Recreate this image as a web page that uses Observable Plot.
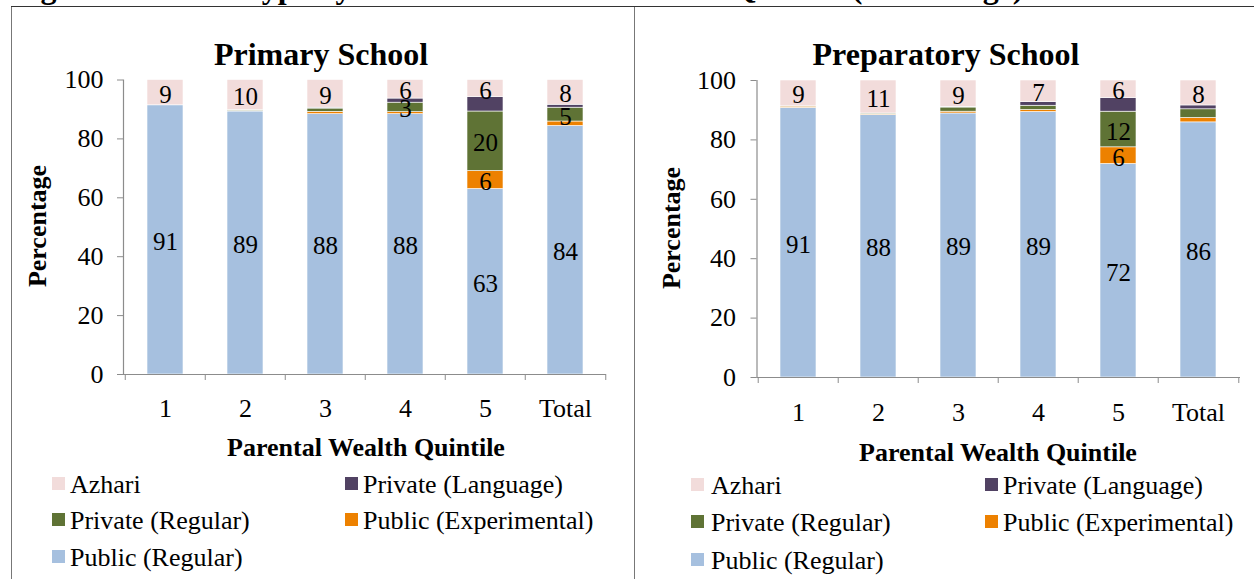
<!DOCTYPE html>
<html><head><meta charset="utf-8">
<script src="https://cdn.jsdelivr.net/npm/d3@7"></script>
<script src="https://cdn.jsdelivr.net/npm/@observablehq/plot@0.6"></script>
<style>
body{margin:0;background:#fff;font-family:"Liberation Serif","Times New Roman",serif;color:#000}
#page{position:relative;width:1254px;height:579px;overflow:hidden;background:#fff}
.abs{position:absolute;white-space:nowrap;line-height:1}
.bold{font-weight:bold}
.sw{position:absolute;width:13px;height:13px}
.svgbox{position:absolute;top:0}
</style></head><body><div id="page"></div>
<script>
// ---- data ----
const figureTitle = "Figure 3: School Type by Level and Parental Wealth Quintile (Percentage)";
const categories = ["1", "2", "3", "4", "5", "Total"];
const seriesNames = ["Public (Regular)", "Public (Experimental)", "Private (Regular)", "Private (Language)", "Azhari"];
const seriesColors = ["#A6C0DF", "#ED8100", "#5F7335", "#514263", "#F2DCDB"];
const legendOrder = ["Azhari", "Private (Language)", "Private (Regular)", "Public (Experimental)", "Public (Regular)"];
const yTicks = [0, 20, 40, 60, 80, 100];

const primaryPublicRegular      = [91.4, 89.3, 88.4, 88.4, 63.0, 84.4];
const primaryPublicExperimental = [0.0, 0.2, 0.8, 0.7, 6.1, 1.5];
const primaryPrivateRegular     = [0.0, 0.3, 1.1, 3.2, 20.2, 4.7];
const primaryPrivateLanguage    = [0.0, 0.0, 0.3, 1.4, 4.9, 1.0];
const primaryAzhari             = [8.6, 10.2, 9.4, 6.3, 5.8, 8.4];

const prepPublicRegular      = [90.8, 88.4, 88.9, 89.4, 71.9, 85.9];
const prepPublicExperimental = [0.4, 0.2, 0.6, 0.7, 5.6, 1.5];
const prepPrivateRegular     = [0.1, 0.3, 1.4, 1.4, 12.0, 2.9];
const prepPrivateLanguage    = [0.0, 0.0, 0.2, 1.2, 4.6, 1.3];
const prepAzhari             = [8.7, 11.1, 8.9, 7.3, 5.9, 8.4];

// ---- helpers ----
const page = document.getElementById("page");
const GRAY = "#8c8c8c";

function addText(txt, opts) {
  const d = document.createElement("div");
  d.className = "abs" + (opts.bold ? " bold" : "");
  d.textContent = txt;
  d.style.fontSize = opts.size + "px";
  d.style.top = (opts.baseline - 0.8375 * opts.size) + "px";
  if (opts.center != null) {
    d.style.left = opts.center + "px";
    d.style.transform = "translateX(-50%)";
  } else d.style.left = opts.left + "px";
  page.appendChild(d);
  return d;
}
function addLine(x, y, w, h, color) {
  const d = document.createElement("div");
  d.style.cssText = `position:absolute;left:${x}px;top:${y}px;width:${w}px;height:${h}px;background:${color}`;
  page.appendChild(d);
}

function rowsFor(seriesArrays) {
  const rows = [];
  categories.forEach((c, i) => {
    seriesNames.forEach((s, j) => rows.push({category: c, series: s, value: seriesArrays[j][i]}));
  });
  return rows;
}

function labelText(d) {
  return d.series !== "Private (Language)" && d.value >= 3 ? String(Math.round(d.value)) : "";
}

function panelChart({left, width, height, ml, mr, mt, mb, rows, tickPadX, tickPadY}) {
  const step = (width - ml - mr) / categories.length;
  const chart = Plot.plot({
    width, height,
    marginLeft: ml, marginRight: mr, marginTop: mt, marginBottom: mb,
    style: {fontFamily: "'Liberation Serif', 'Times New Roman', serif", fontSize: "26px", color: "black", background: "transparent", overflow: "visible"},
    x: {domain: categories, paddingInner: 0.55, paddingOuter: 0.275, label: null},
    y: {domain: [0, 100], label: null},
    color: {domain: seriesNames, range: seriesColors},
    marks: [
      Plot.barY(rows, {x: "category", y: "value", fill: "series", order: seriesNames, stroke: "white", strokeWidth: 0.6}),
      Plot.text(rows, Plot.stackY({x: "category", y: "value", z: "series", order: seriesNames, text: labelText, fontSize: 25, fill: "black", dy: 2})),
      Plot.ruleY([0], {stroke: GRAY, strokeWidth: 1.2}),
      Plot.frame({anchor: "left", stroke: GRAY, strokeWidth: 1.2}),
      Plot.axisY({ticks: yTicks, tickSize: 6, tickPadding: tickPadY, stroke: GRAY, fill: "black", fontSize: 26, label: null}),
      Plot.axisX({tickSize: 0, tickPadding: tickPadX, fill: "black", fontSize: 26, label: null}),
      Plot.axisX({tickSize: 6, tickFormat: () => "", dx: -step / 2, stroke: GRAY, label: null}),
      Plot.axisX({ticks: [categories[categories.length - 1]], tickSize: 6, tickFormat: () => "", dx: step / 2, stroke: GRAY, label: null})
    ]
  });
  const box = document.createElement("div");
  box.className = "svgbox";
  box.style.left = left + "px";
  box.appendChild(chart);
  page.appendChild(box);
}

function legend(items) {
  items.forEach(it => {
    const s = document.createElement("div");
    s.className = "sw";
    s.style.left = it.sx + "px";
    s.style.top = (it.baseline - 17) + "px";
    s.style.background = seriesColors[seriesNames.indexOf(it.name)];
    page.appendChild(s);
    addText(it.name, {left: it.tx, baseline: it.baseline, size: 26});
  });
}

function rotated(txt, cx, cy) {
  const d = document.createElement("div");
  d.className = "abs bold";
  d.textContent = txt;
  d.style.fontSize = "26px";
  d.style.left = cx + "px";
  d.style.top = cy + "px";
  d.style.transform = "translate(-50%,-50%) rotate(-90deg)";
  page.appendChild(d);
}

// ---- frame lines ----
addText(figureTitle, {left: 12, baseline: -2.5, size: 32, bold: true});
addLine(11, 6, 1243, 1.4, "#333");
addLine(11, 7, 1.2, 572, "#777");
addLine(634, 7, 1.2, 572, "#777");

// ---- left panel: Primary ----
panelChart({
  left: 0, width: 636, height: 430, ml: 123, mr: 30, mt: 79.5, mb: 56,
  rows: rowsFor([primaryPublicRegular, primaryPublicExperimental, primaryPrivateRegular, primaryPrivateLanguage, primaryAzhari]),
  tickPadX: 24, tickPadY: 14
});
addText("Primary School", {center: 321, baseline: 65, size: 32, bold: true});
addText("Parental Wealth Quintile", {center: 366, baseline: 457, size: 26, bold: true});
rotated("Percentage", 38, 226);
legend([
  {name: legendOrder[0], sx: 52, tx: 70, baseline: 494},
  {name: legendOrder[1], sx: 345, tx: 363, baseline: 494},
  {name: legendOrder[2], sx: 52, tx: 70, baseline: 530},
  {name: legendOrder[3], sx: 345, tx: 363, baseline: 530},
  {name: legendOrder[4], sx: 52, tx: 70, baseline: 567}
]);

// ---- right panel: Preparatory ----
panelChart({
  left: 636, width: 618, height: 430, ml: 120.5, mr: 14, mt: 80, mb: 53,
  rows: rowsFor([prepPublicRegular, prepPublicExperimental, prepPrivateRegular, prepPrivateLanguage, prepAzhari]),
  tickPadX: 25, tickPadY: 15
});
addText("Preparatory School", {center: 946, baseline: 65, size: 32, bold: true});
addText("Parental Wealth Quintile", {center: 998, baseline: 462, size: 26, bold: true});
rotated("Percentage", 672, 228);
legend([
  {name: legendOrder[0], sx: 691, tx: 711, baseline: 495},
  {name: legendOrder[1], sx: 985, tx: 1003, baseline: 495},
  {name: legendOrder[2], sx: 691, tx: 711, baseline: 532},
  {name: legendOrder[3], sx: 985, tx: 1003, baseline: 532},
  {name: legendOrder[4], sx: 691, tx: 711, baseline: 570}
]);
</script></body></html>
